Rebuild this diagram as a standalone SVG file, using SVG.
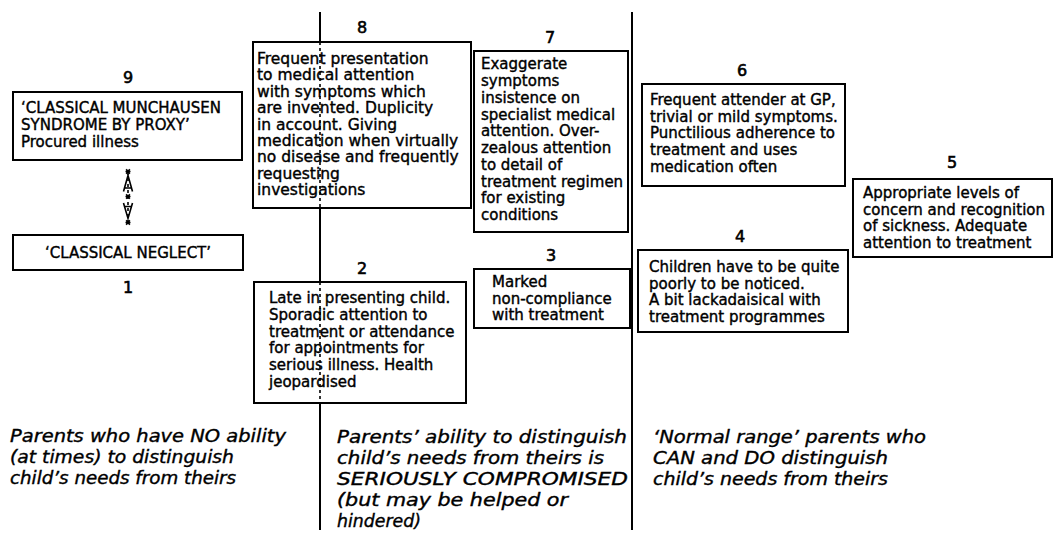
<svg xmlns="http://www.w3.org/2000/svg" width="1057" height="538" viewBox="0 0 1057 538">
<style>
  .box { fill: #fff; stroke: #000; stroke-width: 2; }
  .t { font-family: "DejaVu Sans", "Liberation Sans", sans-serif; font-size: 15px; fill: #000; stroke: #000; stroke-width: 0.4; }
  .t8 { font-size: 15.5px; }
  .num { font-family: "DejaVu Sans", "Liberation Sans", sans-serif; font-size: 16px; fill: #000; text-anchor: middle; stroke: #000; stroke-width: 0.6; }
  .it { font-family: "DejaVu Sans", "Liberation Sans", sans-serif; font-style: italic; font-size: 18px; fill: #000; stroke: #000; stroke-width: 0.4; }
  .div { stroke: #000; stroke-width: 2; fill: none; }
  .dash { stroke: #000; stroke-width: 1.6; stroke-dasharray: 3 3; fill: none; }
  .conn { stroke: #000; stroke-width: 1.6; fill: none; }
</style>

<!-- divider lines -->
<g id="dividers">
  <line class="div" x1="320" y1="12" x2="320" y2="42"/>
  <line class="div" x1="320" y1="208" x2="320" y2="282"/>
  <line class="div" x1="320" y1="403" x2="320" y2="530"/>
  <line class="div" x1="632" y1="12" x2="632" y2="530"/>
</g>

<!-- nodes -->
<g id="node9">
  <text class="num" x="128" y="83">9</text>
  <rect class="box" x="13" y="92" width="229" height="68"/>
  <text class="t" x="21" y="113">‘CLASSICAL MUNCHAUSEN</text>
  <text class="t" x="21" y="130">SYNDROME BY PROXY’</text>
  <text class="t" x="21" y="147">Procured illness</text>
</g>

<g id="node1">
  <rect class="box" x="13" y="235" width="230" height="35"/>
  <text class="t" x="128" y="258" text-anchor="middle">‘CLASSICAL NEGLECT’</text>
  <text class="num" x="128" y="293">1</text>
</g>

<g id="node8">
  <text class="num" x="362" y="33">8</text>
  <rect class="box" x="253" y="42" width="218" height="166"/>
  <g class="t t8">
    <text x="257" y="64">Frequent presentation</text>
    <text x="257" y="80.4">to medical attention</text>
    <text x="257" y="96.8">with symptoms which</text>
    <text x="257" y="113.2">are invented. Duplicity</text>
    <text x="257" y="129.6">in account. Giving</text>
    <text x="257" y="146">medication when virtually</text>
    <text x="257" y="162.4">no disease and frequently</text>
    <text x="257" y="178.8">requesting</text>
    <text x="257" y="195.2">investigations</text>
  </g>
</g>

<g id="node7">
  <text class="num" x="550" y="43">7</text>
  <rect class="box" x="474" y="51" width="154" height="181"/>
  <g class="t">
    <text x="481" y="69.3">Exaggerate</text>
    <text x="481" y="86">symptoms</text>
    <text x="481" y="102.8">insistence on</text>
    <text x="481" y="119.5">specialist medical</text>
    <text x="481" y="136.3">attention. Over-</text>
    <text x="481" y="153">zealous attention</text>
    <text x="481" y="169.7">to detail of</text>
    <text x="481" y="186.5">treatment regimen</text>
    <text x="481" y="203.2">for existing</text>
    <text x="481" y="220">conditions</text>
  </g>
</g>

<g id="node6">
  <text class="num" x="742" y="76">6</text>
  <rect class="box" x="642" y="84" width="203" height="102"/>
  <g class="t">
    <text x="650" y="105">Frequent attender at GP,</text>
    <text x="650" y="121.7">trivial or mild symptoms.</text>
    <text x="650" y="138.4">Punctilious adherence to</text>
    <text x="650" y="155.1">treatment and uses</text>
    <text x="650" y="171.8">medication often</text>
  </g>
</g>

<g id="node5">
  <text class="num" x="952" y="168">5</text>
  <rect class="box" x="853" y="179" width="199" height="78"/>
  <g class="t">
    <text x="863" y="198">Appropriate levels of</text>
    <text x="863" y="214.6">concern and recognition</text>
    <text x="863" y="231.2">of sickness. Adequate</text>
    <text x="863" y="247.8">attention to treatment</text>
  </g>
</g>

<g id="node4">
  <text class="num" x="740" y="242">4</text>
  <rect class="box" x="638" y="250" width="210" height="82"/>
  <g class="t">
    <text x="649" y="272">Children have to be quite</text>
    <text x="649" y="288.7">poorly to be noticed.</text>
    <text x="649" y="305.3">A bit lackadaisical with</text>
    <text x="649" y="322">treatment programmes</text>
  </g>
</g>

<g id="node3">
  <text class="num" x="551" y="261">3</text>
  <rect class="box" x="474" y="269" width="156" height="59"/>
  <g class="t">
    <text x="492" y="287">Marked</text>
    <text x="492" y="303.5">non-compliance</text>
    <text x="492" y="320">with treatment</text>
  </g>
</g>

<g id="node2">
  <text class="num" x="362" y="274">2</text>
  <rect class="box" x="254" y="282" width="212" height="121"/>
  <g class="t">
    <text x="269" y="303">Late in presenting child.</text>
    <text x="269" y="319.8">Sporadic attention to</text>
    <text x="269" y="336.6">treatment or attendance</text>
    <text x="269" y="353.4">for appointments for</text>
    <text x="269" y="370.2">serious illness. Health</text>
    <text x="269" y="387">jeopardised</text>
  </g>
</g>

<!-- dashed divider parts through boxes 8 and 2 -->
<g id="divider-dashes">
  <line class="dash" x1="320" y1="42" x2="320" y2="208"/>
  <line class="dash" x1="320" y1="282" x2="320" y2="403"/>
</g>

<!-- connectors -->
<g id="connectors">
  <line class="dash" x1="128" y1="172" x2="128" y2="222" stroke-width="1.3" stroke-dasharray="2 2"/>
  <path class="conn" d="M123.5,191.5 L128,175.5 L132.5,191.5 M124.5,188 L131.5,188"/>
  <path class="conn" d="M123.5,203 L128,218.5 L132.5,203 M124.5,206.5 L131.5,206.5"/>
  <path class="conn" stroke-width="1.1" d="M125.5,171.5 L130.5,171.5 M126.2,169.3 L129.8,173.7 M129.8,169.3 L126.2,173.7"/>
  <path class="conn" stroke-width="1.1" d="M125.5,196.5 L130.5,196.5 M126.2,194.3 L129.8,198.7 M129.8,194.3 L126.2,198.7"/>
  <path class="conn" stroke-width="1.1" d="M125.5,222.5 L130.5,222.5 M126.2,220.3 L129.8,224.7 M129.8,220.3 L126.2,224.7"/>
</g>

<!-- column captions -->
<g id="caption-left" class="it">
  <text x="10" y="442" textLength="276" lengthAdjust="spacingAndGlyphs">Parents who have NO ability</text>
  <text x="10" y="463" textLength="224" lengthAdjust="spacingAndGlyphs">(at times) to distinguish</text>
  <text x="10" y="484" textLength="226" lengthAdjust="spacingAndGlyphs">child’s needs from theirs</text>
</g>
<g id="caption-middle" class="it">
  <text x="337" y="443" textLength="290" lengthAdjust="spacingAndGlyphs">Parents’ ability to distinguish</text>
  <text x="337" y="464" textLength="267" lengthAdjust="spacingAndGlyphs">child’s needs from theirs is</text>
  <text x="337" y="485" textLength="291" lengthAdjust="spacingAndGlyphs">SERIOUSLY COMPROMISED</text>
  <text x="337" y="506" textLength="231" lengthAdjust="spacingAndGlyphs">(but may be helped or</text>
  <text x="337" y="527" textLength="84" lengthAdjust="spacingAndGlyphs">hindered)</text>
</g>
<g id="caption-right" class="it">
  <text x="653" y="443" textLength="273" lengthAdjust="spacingAndGlyphs">‘Normal range’ parents who</text>
  <text x="653" y="464" textLength="235" lengthAdjust="spacingAndGlyphs">CAN and DO distinguish</text>
  <text x="653" y="485" textLength="235" lengthAdjust="spacingAndGlyphs">child’s needs from theirs</text>
</g>
</svg>
